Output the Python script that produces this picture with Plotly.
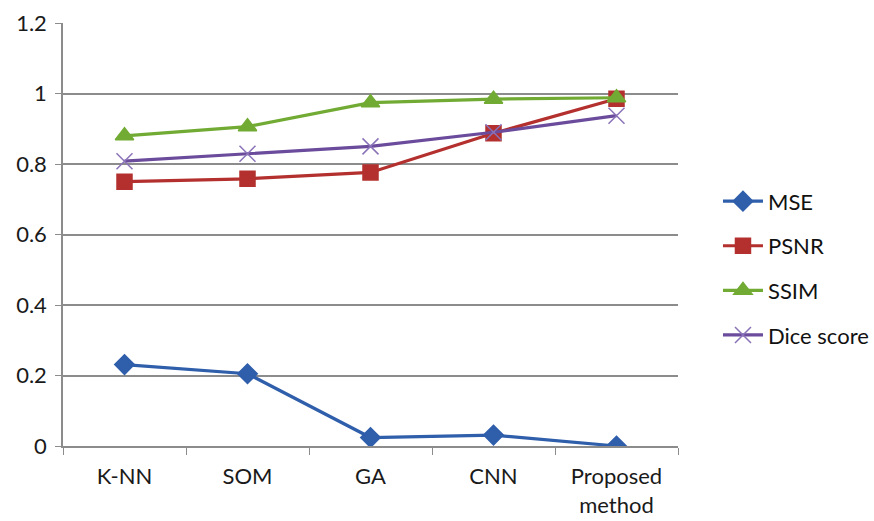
import plotly.graph_objects as go

categories = ["K-NN", "SOM", "GA", "CNN", "Proposed<br>method"]
mse = [0.231, 0.205, 0.024, 0.031, 0.0]
psnr = [0.750, 0.758, 0.776, 0.887, 0.985]
ssim = [0.880, 0.906, 0.974, 0.984, 0.988]
dice = [0.808, 0.829, 0.850, 0.890, 0.937]
y_ticks = [0, 0.2, 0.4, 0.6, 0.8, 1, 1.2]
y_tick_text = ["0", "0.2", "0.4", "0.6", "0.8", "1", "1.2"]

series = [
    ("MSE", mse, "#2F5EAB", "diamond", 15, None),
    ("PSNR", psnr, "#B3302E", "square", 15, None),
    ("SSIM", ssim, "#72AB34", "triangle-up", 16, None),
    ("Dice score", dice, "#6B4B9B", "x-thin", 16, "#8A72B8"),
]

fig = go.Figure()
for i, (name, vals, color, symbol, size, mcolor) in enumerate(series):
    fig.add_trace(go.Scatter(
        x=categories, y=vals, name=name, mode="lines+markers",
        legendgroup=f"g{i}",
        line=dict(color=color, width=3.2),
        marker=dict(symbol=symbol, size=size, color=mcolor or color,
                    line=dict(color=mcolor or color, width=1.5)),
    ))

fig.update_layout(
    width=874, height=521,
    margin=dict(l=63, r=196, t=23, b=75, autoexpand=False),
    paper_bgcolor="white", plot_bgcolor="white",
    font=dict(family="Lato, Open Sans, sans-serif", size=22, color="#1A1A1A"),
    showlegend=True,
    legend=dict(
        x=1.065, y=0.628, xanchor="left", yanchor="top",
        font=dict(size=22, color="#111111"),
        tracegroupgap=13, itemwidth=40,
        bgcolor="rgba(0,0,0,0)",
    ),
)
fig.update_xaxes(
    type="category", range=[-0.5, 4.5], automargin=False,
    showgrid=False, showline=True, linecolor="#8C8C8C", linewidth=1.5,
    ticks="outside", tickson="boundaries", ticklen=7, tickcolor="#8C8C8C",
    tickfont=dict(size=22, color="#1A1A1A"),
    ticklabelstandoff=10,
)
fig.update_yaxes(
    range=[0, 1.2], tickvals=y_ticks, ticktext=y_tick_text, automargin=False,
    showgrid=True, gridcolor="#8C8C8C", gridwidth=1.5,
    showline=True, linecolor="#8C8C8C", linewidth=1.5,
    ticks="outside", ticklen=6, tickcolor="#8C8C8C",
    tickfont=dict(size=22, color="#1A1A1A"),
    ticklabelstandoff=4,
    zeroline=False,
)

fig.write_html("out.html")
